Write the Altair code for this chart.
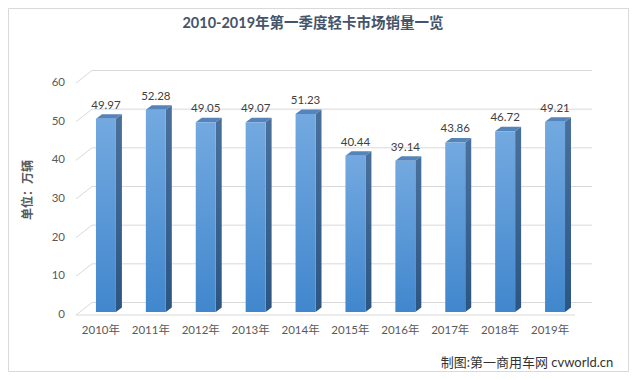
import altair as alt
import pandas as pd

# ---- data ----
years = ["2010年", "2011年", "2012年", "2013年", "2014年",
         "2015年", "2016年", "2017年", "2018年", "2019年"]
sales = [49.97, 52.28, 49.05, 49.07, 51.23, 40.44, 39.14, 43.86, 46.72, 49.21]
y_ticks = [0, 10, 20, 30, 40, 50, 60]
title_text = "2010-2019年第一季度轻卡市场销量一览"
y_title = "单位：万辆"
credit = "制图:第一商用车网 cvworld.cn"

# ---- geometry / style constants ----
PLOT_W, PLOT_H = 499, 232
X_MAX, Y_MAX = len(years), 60
PX_X = PLOT_W / X_MAX
PX_Y = PLOT_H / Y_MAX
BAR_L, BAR_R = 0.40, 0.80          # bar front face inside each category slot
DEPTH_X, DEPTH_Y = 6.0, 4.5         # 3D depth of a bar, px
LIFT = 3                            # bars sit slightly behind the front plane
WALL_DX, WALL_DY = 16, 12.5         # back wall offset, px
FONT = "Lato, 'Noto Sans CJK SC', sans-serif"
CJK = "'Noto Sans CJK SC', sans-serif"
GRID = "#d9d9d9"

ddx = DEPTH_X / PX_X
ddy = DEPTH_Y / PX_Y

front = pd.DataFrame({
    "year": years,
    "v": sales,
    "xl": [i + BAR_L for i in range(len(years))],
    "xr": [i + BAR_R for i in range(len(years))],
})
front["xc"] = (front["xl"] + front["xr"]) / 2
front["label"] = [f"{v:.2f}" for v in sales]

side_rows, top_rows = [], []
for i, v in enumerate(sales):
    xl, xr = i + BAR_L, i + BAR_R
    side_rows += [
        {"bar": i, "x": xr, "top": v, "bot": 0},
        {"bar": i, "x": xr + ddx, "top": v + ddy, "bot": ddy},
    ]
    top_rows += [
        {"bar": i, "x": xl, "top": v, "bot": v},
        {"bar": i, "x": xl + ddx, "top": v + ddy, "bot": v},
        {"bar": i, "x": xr, "top": v + ddy, "bot": v},
        {"bar": i, "x": xr + ddx, "top": v + ddy, "bot": v + ddy},
    ]
side = pd.DataFrame(side_rows)
topf = pd.DataFrame(top_rows)
ticks = pd.DataFrame({"t": y_ticks, "lab": [str(t) for t in y_ticks]})
one = pd.DataFrame({"t": [0]})
cats = pd.DataFrame({"year": years, "xc": [i + 0.5 for i in range(len(years))]})

xs = alt.Scale(domain=[0, X_MAX], nice=False, zero=False)
ys = alt.Scale(domain=[0, Y_MAX], nice=False)

back_grid = alt.Chart(ticks).mark_rule(
    color=GRID, strokeWidth=1, xOffset=WALL_DX, x2Offset=WALL_DX + 1, yOffset=-WALL_DY
).encode(
    y=alt.Y("t:Q", scale=ys, axis=None),
    x=alt.X(datum=0, scale=xs, axis=None),
    x2=alt.datum(X_MAX),
)

diag = alt.Chart(ticks).mark_rule(
    color=GRID, strokeWidth=1, x2Offset=WALL_DX, y2Offset=-WALL_DY
).encode(
    x=alt.X(datum=0, axis=None), x2=alt.datum(0),
    y=alt.Y("t:Q", axis=None), y2=alt.Y2("t:Q"),
)

floor = alt.Chart(one).mark_rule(color=GRID, strokeWidth=1).encode(
    x=alt.X(datum=0, axis=None), x2=alt.datum(X_MAX), y=alt.Y(datum=0, axis=None)
)

ylabels = alt.Chart(ticks).mark_text(
    font=FONT, fontSize=11.5, color="#595959", align="right", baseline="middle", dx=-11
).encode(x=alt.X(datum=0, axis=None), y=alt.Y("t:Q", axis=None), text="lab:N")

ytitle = alt.Chart(one).mark_text(
    font=CJK, fontSize=12, fontWeight="bold", color="#595959", angle=270,
    align="center", baseline="middle"
).encode(x=alt.value(-48), y=alt.value(107), text=alt.value(y_title))

front_grad = alt.Gradient(gradient="linear", x1=0, x2=0, y1=0, y2=1, stops=[
    alt.GradientStop(color="#73a9e0", offset=0),
    alt.GradientStop(color="#4187cd", offset=1)])
side_grad = alt.Gradient(gradient="linear", x1=0, x2=0, y1=0, y2=1, stops=[
    alt.GradientStop(color="#4a719c", offset=0),
    alt.GradientStop(color="#2c5582", offset=1)])

sides = alt.Chart(side).mark_area(
    fill=side_grad, yOffset=-LIFT, y2Offset=-LIFT, interpolate="linear"
).encode(
    x=alt.X("x:Q", axis=None), y=alt.Y("top:Q", stack=None, axis=None),
    y2="bot:Q", detail="bar:N"
)

tops = alt.Chart(topf).mark_area(
    fill="#5584ba", yOffset=-LIFT, y2Offset=-LIFT, interpolate="linear"
).encode(
    x=alt.X("x:Q", axis=None), y=alt.Y("top:Q", stack=None, axis=None),
    y2="bot:Q", detail="bar:N"
)

fronts = alt.Chart(front).mark_rect(
    fill=front_grad, yOffset=-LIFT, y2Offset=-LIFT
).encode(
    x=alt.X("xl:Q", axis=None), x2="xr:Q", y=alt.Y("v:Q", axis=None),
    y2=alt.datum(0)
)

values = alt.Chart(front).mark_text(
    font=FONT, fontSize=11.5, color="#404040", dy=-16, baseline="middle"
).encode(x=alt.X("xc:Q", axis=None), y=alt.Y("v:Q", axis=None), text="label:N")

xlabels = alt.Chart(cats).mark_text(
    font=FONT, fontSize=11.5, color="#595959", dy=16, baseline="middle"
).encode(x=alt.X("xc:Q", axis=None), y=alt.Y(datum=0, axis=None), text="year:N")

title = alt.Chart(one).mark_text(
    font=FONT, fontSize=14.5, fontWeight="bold", color="#44546a",
    baseline="middle", align="center"
).encode(x=alt.value(237), y=alt.value(-59), text=alt.value(title_text))

credit_t = alt.Chart(one).mark_text(
    font=FONT, fontSize=13, fontWeight="normal", color="#333333",
    baseline="middle", align="center"
).encode(x=alt.value(451), y=alt.value(280), text=alt.value(credit))

border = alt.Chart(one).mark_rect(
    fill=None, stroke=GRID, strokeWidth=1
).encode(x=alt.value(-67.5), x2=alt.value(552.5),
         y=alt.value(-74.5), y2=alt.value(288.5))

chart = alt.layer(
    border, back_grid, diag, floor, ylabels, ytitle, sides, tops, fronts,
    values, xlabels, title, credit_t
).properties(
    width=PLOT_W, height=PLOT_H, autosize="none",
    padding={"left": 68, "top": 75, "right": 54, "bottom": 57},
).configure_view(stroke=None)

chart.save("out.html", embed_options={"renderer": "svg", "actions": False})
